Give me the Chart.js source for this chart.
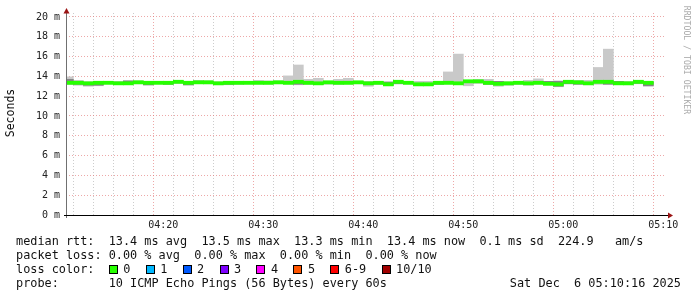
<!DOCTYPE html>
<html>
<head>
<meta charset="utf-8">
<script src="https://cdn.jsdelivr.net/npm/chart.js@4.4.1/dist/chart.umd.min.js"></script>
<style>
  html, body { margin: 0; padding: 0; background: #fff; }
  #wrap { position: relative; width: 697px; height: 297px; overflow: hidden;
          font-family: 'DejaVu Sans Mono', monospace; color: #111; }
  #chart { position: absolute; left: 0; top: 0; }
  .row { position: absolute; left: 16px; font-size: 11.85px; line-height: 14px; white-space: pre; }
  .item { display: inline-block; margin-right: 15.3px; }
  .item i { display: inline-block; width: 7px; height: 7px; border: 1px solid #000;
            margin-right: 5.5px; vertical-align: -1px; }
  #ytitle { position: absolute; left: -20px; top: 106px; width: 60px; text-align: center;
            font-size: 11.5px; line-height: 14px; transform: rotate(-90deg); }
  #stamp { position: absolute; left: 627px; top: 55px; width: 120px; text-align: center;
           font-size: 8.2px; line-height: 10px; color: #aaa; transform: rotate(90deg); }
</style>
</head>
<body>
<div id="wrap">
  <canvas id="chart" width="697" height="297"></canvas>
  <div id="ytitle">Seconds</div>
  <div id="stamp">RRDTOOL / TOBI OETIKER</div>
  <div class="row" style="top:234px">median rtt:  13.4 ms avg  13.5 ms max  13.3 ms min  13.4 ms now  0.1 ms sd  224.9   am/s</div>
  <div class="row" style="top:248px">packet loss: 0.00 % avg  0.00 % max  0.00 % min  0.00 % now</div>
  <div class="row" id="lossrow" style="top:262px">loss color:  </div>
  <div class="row" style="top:276px">probe:       10 ICMP Echo Pings (56 Bytes) every 60s</div>
  <div class="row" style="top:276px; left:auto; right:16px">Sat Dec  6 05:10:16 2025</div>
</div>
<script>
// graph window and steps (seconds of day)
var graphStart = "04:10:16";
var graphEnd = "05:10:16";
var firstStep = "04:10";
var stepSeconds = 60;

// rtt per step, in ms
var medianRtt = [
  13.35, 13.35, 13.3, 13.35, 13.35, 13.3, 13.3, 13.4, 13.35, 13.35,
  13.35, 13.45, 13.35, 13.4, 13.4, 13.3, 13.35, 13.35, 13.35, 13.35,
  13.35, 13.4, 13.35, 13.45, 13.35, 13.3, 13.4, 13.35, 13.35, 13.4,
  13.3, 13.35, 13.2, 13.45, 13.35, 13.2, 13.2, 13.35, 13.35, 13.3,
  13.5, 13.5, 13.35, 13.25, 13.3, 13.35, 13.3, 13.35, 13.25, 13.2,
  13.45, 13.4, 13.3, 13.45, 13.45, 13.3, 13.3, 13.45, 13.35
];
var minRtt = [
  13.2, 13.1, 13.0, 13.05, 13.25, 13.2, 13.2, 13.25, 13.1, 13.25,
  13.2, 13.3, 13.1, 13.3, 13.25, 13.15, 13.15, 13.2, 13.25, 13.25,
  13.2, 13.25, 13.25, 13.15, 13.2, 13.2, 13.2, 13.2, 13.25, 13.25,
  13.0, 13.2, 13.05, 13.25, 13.25, 13.05, 13.05, 13.2, 13.25, 13.2,
  13.05, 13.3, 13.2, 13.0, 13.1, 13.2, 13.1, 13.2, 13.15, 12.95,
  13.25, 13.2, 13.15, 13.2, 13.2, 13.2, 13.15, 13.25, 13.0
];
var maxRtt = [
  13.95, 13.6, 13.45, 13.5, 13.45, 13.5, 13.55, 13.55, 13.5, 13.45,
  13.5, 13.55, 13.5, 13.6, 13.55, 13.45, 13.45, 13.45, 13.5, 13.6,
  13.55, 13.55, 14.05, 15.15, 13.7, 13.8, 13.5, 13.7, 13.8, 13.5,
  13.5, 13.5, 13.5, 13.5, 13.45, 13.5, 13.5, 13.45, 14.45, 16.25,
  13.6, 13.7, 13.7, 13.5, 13.45, 13.5, 13.6, 13.75, 13.5, 13.55,
  13.6, 13.6, 13.6, 14.9, 16.75, 13.5, 13.5, 13.6, 13.5
];
// darker smoke around the median
var innerLo = [
  13.25, 13.2, 13.1, 13.1, 13.3, 13.2, 13.25, 13.3, 13.15, 13.3,
  13.2, 13.35, 13.15, 13.3, 13.3, 13.2, 13.2, 13.25, 13.25, 13.25,
  13.3, 13.3, 13.25, 13.2, 13.25, 13.2, 13.3, 13.25, 13.25, 13.3,
  13.2, 13.25, 13.1, 13.25, 13.25, 13.1, 13.1, 13.2, 13.25, 13.2,
  13.4, 13.35, 13.2, 13.2, 13.15, 13.25, 13.2, 13.3, 13.3, 13.0,
  13.25, 13.2, 13.2, 13.35, 13.2, 13.3, 13.2, 13.3, 13.05
];
var innerHi = [
  13.7, 13.45, 13.4, 13.4, 13.4, 13.4, 13.55, 13.5, 13.4, 13.45,
  13.45, 13.55, 13.4, 13.5, 13.5, 13.4, 13.45, 13.4, 13.45, 13.45,
  13.5, 13.5, 13.45, 13.55, 13.45, 13.4, 13.5, 13.45, 13.45, 13.5,
  13.4, 13.45, 13.4, 13.45, 13.45, 13.3, 13.3, 13.4, 13.45, 13.4,
  13.6, 13.6, 13.45, 13.5, 13.35, 13.45, 13.4, 13.5, 13.5, 13.5,
  13.5, 13.45, 13.4, 13.55, 13.55, 13.5, 13.4, 13.55, 13.4
];

var lossLabels = ["0", "1", "2", "3", "4", "5", "6-9", "10/10"];
var lossColors = ["#26ff00", "#00b8ff", "#0059ff", "#7e00ff", "#ff00ff", "#ff5500", "#ff0000", "#a10000"];

function toSec(s) {
  var p = s.split(":");
  return (+p[0]) * 3600 + (+p[1]) * 60 + (+(p[2] || 0));
}
function pad(n) { return (n < 10 ? "0" : "") + n; }
function hhmm(sec) { return pad(Math.floor(sec / 3600)) + ":" + pad(Math.floor(sec % 3600 / 60)); }

var xMin = toSec(graphStart), xMax = toSec(graphEnd);
var stepMid = medianRtt.map(function (v, i) { return toSec(firstStep) + i * stepSeconds + stepSeconds / 2; });

function band(lo, hi) {
  return stepMid.map(function (t, i) { return { x: t, y: [lo[i], hi[i]] }; });
}

var lossRow = document.getElementById("lossrow");
lossLabels.forEach(function (lab, i) {
  var s = document.createElement("span");
  s.className = "item";
  s.innerHTML = '<i style="background:' + lossColors[i] + '"></i>' + lab;
  lossRow.appendChild(s);
});

var majorGrid = "rgba(225,110,110,0.6)";
var minorGrid = "rgba(170,170,170,0.6)";

var axisArrows = {
  id: "axisArrows",
  afterDatasetsDraw: function (chart) {
    var a = chart.chartArea, ctx = chart.ctx;
    ctx.save();
    ctx.lineWidth = 1;
    ctx.strokeStyle = "#707070";
    ctx.beginPath();
    ctx.moveTo(a.left + 0.5, a.bottom + 3);
    ctx.lineTo(a.left + 0.5, a.top - 1);
    ctx.stroke();
    ctx.strokeStyle = "#000";
    ctx.beginPath();
    ctx.moveTo(a.left - 2, a.bottom + 0.5);
    ctx.lineTo(a.right + 2, a.bottom + 0.5);
    ctx.stroke();
    ctx.fillStyle = "#9b1414";
    ctx.beginPath();
    ctx.moveTo(a.left + 0.5, a.top - 5);
    ctx.lineTo(a.left - 2.5, a.top + 0.5);
    ctx.lineTo(a.left + 3.5, a.top + 0.5);
    ctx.closePath();
    ctx.fill();
    ctx.beginPath();
    ctx.moveTo(a.right + 7, a.bottom + 0.5);
    ctx.lineTo(a.right + 2, a.bottom - 2.5);
    ctx.lineTo(a.right + 2, a.bottom + 3.5);
    ctx.closePath();
    ctx.fill();
    ctx.restore();
  }
};

var tickFont = { family: "'DejaVu Sans Mono', monospace", size: 10 };

new Chart(document.getElementById("chart"), {
  type: "bar",
  data: {
    datasets: [
      {
        label: "median",
        data: stepMid.map(function (t, i) { return { x: t, y: [medianRtt[i] - 0.16, medianRtt[i] + 0.16] }; }),
        backgroundColor: "#26ff00"
      },
      { label: "inner smoke", data: band(innerLo, innerHi), backgroundColor: "#858585" },
      { label: "smoke", data: band(minRtt, maxRtt), backgroundColor: "#c9c9c9" }
    ].map(function (d) {
      d.grouped = false;
      d.barPercentage = 1;
      d.categoryPercentage = 1;
      d.borderWidth = 0;
      return d;
    })
  },
  options: {
    responsive: false,
    animation: false,
    devicePixelRatio: 1,
    layout: { padding: { left: 0, right: 31, top: 13, bottom: 0 } },
    plugins: { legend: { display: false }, tooltip: { enabled: false } },
    scales: {
      x: {
        type: "linear",
        offset: false,
        min: xMin,
        max: xMax,
        afterBuildTicks: function (scale) {
          var ticks = [];
          for (var t = Math.ceil(xMin / 120) * 120; t <= xMax; t += 120) ticks.push({ value: t });
          scale.ticks = ticks;
        },
        afterFit: function (scale) { scale.height = 82; },
        ticks: {
          autoSkip: false,
          maxRotation: 0,
          padding: 4,
          color: "#222",
          font: tickFont,
          callback: function (v) { return v % 600 === 0 ? hhmm(v) : ""; }
        },
        grid: {
          drawTicks: false,
          color: function (c) { return c.tick && c.tick.value % 600 === 0 ? majorGrid : minorGrid; }
        },
        border: { display: false, dash: [1, 2] }
      },
      y: {
        min: 0,
        max: 20.4,
        afterBuildTicks: function (scale) {
          var ticks = [];
          for (var v = 0; v <= 20; v++) ticks.push({ value: v });
          scale.ticks = ticks;
        },
        afterFit: function (scale) { scale.width = 66; },
        ticks: {
          padding: 6,
          color: "#222",
          font: tickFont,
          callback: function (v) { return v % 2 === 0 ? v + " m" : ""; }
        },
        grid: {
          drawTicks: false,
          color: function (c) { return c.tick && c.tick.value % 2 === 0 ? majorGrid : minorGrid; }
        },
        border: { display: false, dash: [1, 2] }
      }
    }
  },
  plugins: [axisArrows]
});
</script>
</body>
</html>
